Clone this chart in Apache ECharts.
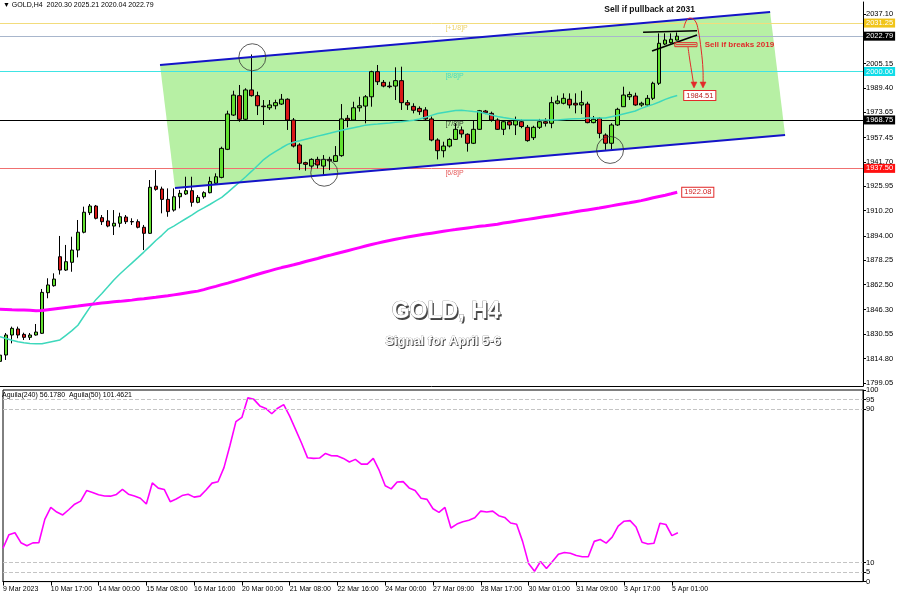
<!DOCTYPE html>
<html><head><meta charset="utf-8">
<script src="https://cdn.jsdelivr.net/npm/echarts@6/dist/echarts.min.js"></script>
<style>html,body{margin:0;padding:0;background:#fff}#c{width:900px;height:600px}</style>
</head><body><div id="c"></div>
<script>
// ---------- DATA ----------
// H4 candles: [open, high, low, close]
const candles = [
[1813.0,1818.0,1810.5,1817.0],[1817.1,1831.3,1813.9,1830.0],[1830.0,1835.4,1824.6,1834.3],[1833.9,1835.4,1827.9,1830.0],
[1830.4,1831.5,1826.8,1828.5],[1828.5,1831.3,1826.8,1830.0],[1830.0,1837.1,1829.6,1831.9],[1831.1,1859.7,1830.7,1857.5],
[1857.3,1866.6,1853.7,1862.3],[1861.8,1869.8,1861.2,1866.1],[1880.5,1893.9,1869.0,1871.9],[1871.9,1888.1,1871.3,1877.3],
[1876.9,1893.4,1870.8,1884.8],[1884.8,1904.2,1880.1,1896.3],[1896.3,1912.8,1895.6,1909.2],[1908.9,1914.5,1907.4,1913.2],
[1913.2,1913.9,1904.6,1905.3],[1905.7,1907.4,1901.0,1903.1],[1903.6,1910.6,1899.5,1900.3],[1900.3,1910.6,1894.5,1902.1],
[1902.1,1908.9,1899.5,1906.3],[1906.1,1907.4,1901.6,1903.1],[1903.2,1905.3,1901.0,1903.0],[1903.1,1904.6,1898.8,1899.5],
[1899.5,1901.0,1884.8,1895.6],[1895.6,1930.0,1895.2,1925.3],[1926.0,1936.4,1923.1,1924.0],[1924.2,1925.7,1908.5,1917.5],
[1917.5,1924.6,1906.3,1909.6],[1910.6,1924.6,1909.6,1919.2],[1919.2,1923.6,1911.7,1921.4],[1921.0,1932.1,1920.3,1923.1],
[1923.1,1932.1,1912.8,1915.6],[1915.6,1920.3,1915.0,1918.8],[1919.2,1922.7,1918.0,1921.8],[1921.8,1932.1,1921.4,1929.0],
[1927.9,1934.3,1926.8,1932.1],[1931.7,1951.5,1931.1,1950.4],[1949.8,1974.7,1949.3,1972.6],[1971.9,1987.6,1971.3,1984.8],
[1984.4,1991.3,1967.6,1969.2],[1969.2,1989.2,1968.7,1988.1],[1988.1,2011.0,1983.8,1984.4],[1984.4,1987.0,1971.9,1977.9],
[1977.7,1981.6,1965.5,1977.3],[1976.6,1981.6,1975.2,1978.4],[1977.9,1981.8,1975.6,1979.9],[1979.0,1985.5,1978.4,1982.1],
[1982.1,1982.7,1962.3,1968.7],[1968.7,1970.0,1951.0,1951.9],[1952.6,1953.7,1936.4,1940.8],[1941.2,1941.8,1936.0,1940.1],
[1939.0,1944.0,1937.5,1943.3],[1943.3,1945.0,1937.5,1939.7],[1939.0,1946.1,1933.2,1943.3],[1943.3,1945.0,1936.4,1942.4],
[1942.0,1951.9,1941.8,1945.7],[1945.7,1979.0,1945.0,1969.4],[1969.8,1971.9,1964.0,1968.7],[1968.7,1980.5,1968.3,1976.6],
[1976.6,1983.7,1974.1,1977.9],[1977.7,1984.8,1966.6,1983.7],[1983.7,2000.5,1977.3,1999.9],[1999.9,2004.2,1991.3,1993.4],
[1993.0,1994.5,1989.8,1990.6],[1990.6,1993.4,1989.2,1990.2],[1990.6,2002.7,1981.6,1994.1],[1994.1,2003.1,1975.2,1979.9],
[1979.9,1981.6,1975.2,1978.4],[1977.5,1979.5,1973.0,1975.0],[1976.2,1977.5,1972.0,1974.1],[1975.2,1977.0,1968.7,1969.4],
[1969.4,1970.9,1955.0,1955.8],[1955.8,1956.9,1943.3,1948.9],[1948.9,1954.7,1944.6,1951.9],[1951.9,1956.9,1951.0,1956.2],
[1956.2,1966.6,1955.8,1962.7],[1962.3,1964.5,1957.3,1959.7],[1959.5,1960.1,1948.3,1953.7],[1953.7,1968.7,1953.2,1962.7],
[1962.7,1975.2,1962.3,1974.7],[1974.5,1975.2,1972.5,1973.4],[1973.0,1974.1,1967.6,1968.7],[1968.7,1969.8,1962.3,1962.7],
[1962.7,1968.7,1959.0,1967.6],[1967.6,1968.7,1962.7,1965.5],[1965.5,1970.9,1959.0,1968.3],[1967.6,1969.0,1963.4,1964.5],
[1964.0,1965.5,1954.7,1955.4],[1957.3,1965.0,1955.8,1964.0],[1964.0,1969.4,1962.9,1967.6],[1967.6,1969.8,1964.5,1966.6],
[1966.6,1983.7,1963.4,1979.9],[1979.5,1984.5,1978.8,1981.0],[1979.5,1985.9,1978.8,1982.7],[1982.1,1985.9,1976.2,1978.4],
[1979.5,1985.9,1973.0,1978.4],[1978.4,1987.6,1972.6,1979.9],[1979.0,1980.5,1966.6,1967.0],[1967.0,1971.3,1966.6,1969.2],
[1969.8,1970.5,1956.9,1960.1],[1959.0,1960.1,1949.4,1953.7],[1953.7,1966.6,1949.8,1965.5],[1965.5,1976.6,1964.9,1975.6],
[1977.3,1990.2,1977.3,1984.8],[1983.7,1987.0,1981.6,1985.2],[1984.2,1986.3,1977.9,1978.4],[1978.4,1980.5,1977.3,1979.5],
[1978.4,1984.8,1977.5,1982.7],[1982.7,1993.4,1981.6,1992.4],[1992.4,2024.6,1991.3,2018.2],[2017.7,2024.6,2017.1,2020.3],
[2018.6,2024.6,2018.0,2020.8],[2020.30,2025.21,2020.04,2022.79]
];
// Turquoise moving average
const maFast = [
1828.9,1827.8,1826.6,1825.6,1825.0,1824.5,1824.3,1824.4,1825.2,1826.0,
1826.8,1829.8,1832.8,1836.3,1842.1,1847.8,1852.8,1856.8,1861.1,1865.5,
1869.4,1872.9,1876.4,1879.9,1883.5,1887.2,1891.0,1894.3,1898.1,1900.3,
1902.6,1905.0,1907.3,1909.9,1912.0,1914.2,1916.5,1918.8,1922.0,1925.4,
1928.7,1932.1,1935.7,1939.4,1943.2,1946.0,1948.4,1950.8,1953.0,1954.4,
1955.3,1956.3,1957.3,1958.3,1959.2,1960.1,1961.1,1962.1,1962.9,1963.7,
1964.5,1965.4,1965.8,1966.1,1966.5,1966.8,1967.2,1967.6,1968.1,1968.5,
1969.4,1970.5,1971.7,1972.9,1973.6,1974.2,1974.8,1975.0,1974.6,1974.2,
1973.9,1972.9,1971.9,1971.0,1970.3,1969.7,1969.1,1968.7,1968.7,1968.7,
1968.7,1968.7,1968.7,1968.7,1969.0,1969.3,1969.5,1969.7,1970.0,1970.0,
1970.0,1970.0,1970.8,1971.6,1972.6,1973.6,1974.5,1976.2,1977.6,1978.8,
1980.3,1982.0,1983.4,1984.51];
// Magenta 200 moving average
const maSlow = [
1846.6,1846.5,1846.3,1846.2,1846.1,1845.9,1845.7,1845.8,1846.3,1846.8,
1847.3,1847.8,1848.3,1848.7,1849.2,1849.7,1850.1,1850.6,1851.0,1851.4,
1851.7,1852.1,1852.5,1853.0,1853.4,1853.9,1854.3,1854.8,1855.3,1855.9,
1856.5,1857.1,1857.7,1858.3,1859.3,1860.4,1861.4,1862.5,1863.5,1864.6,
1865.7,1866.9,1868.1,1869.2,1870.3,1871.4,1872.5,1873.5,1874.4,1875.3,
1876.3,1877.4,1878.4,1879.4,1880.5,1881.4,1882.4,1883.4,1884.4,1885.4,
1886.4,1887.4,1888.4,1889.3,1890.2,1891.0,1891.8,1892.5,1893.2,1893.9,
1894.5,1895.1,1895.7,1896.3,1896.9,1897.5,1898.0,1898.6,1899.1,1899.6,
1900.1,1900.5,1901.0,1901.5,1902.2,1902.8,1903.4,1904.0,1904.6,1905.2,
1905.8,1906.4,1907.0,1907.6,1908.2,1908.8,1909.5,1910.1,1910.7,1911.3,
1911.9,1912.6,1913.3,1914.0,1914.7,1915.3,1916.0,1916.7,1917.6,1918.5,
1919.4,1920.2,1921.1,1922.08];
// Aguila oscillator
const aguila = [
17.4,24.5,25.5,20.3,18.7,20.2,20.3,32.5,38.7,36.3,
34.8,37.5,40.4,42.0,47.5,46.5,45.3,44.7,44.6,45.5,
48.1,45.6,44.7,43.5,40.5,51.5,48.8,48.1,41.7,43.1,
44.9,45.6,44.1,44.6,47.8,51.4,52.1,59.5,71.0,83.5,
85.7,95.9,95.1,91.7,90.4,87.6,90.5,92.4,86.4,79.3,
72.2,64.6,64.3,64.5,66.9,65.7,65.6,64.3,62.4,63.8,
61.3,61.3,64.3,58.0,50.0,48.4,52.0,52.2,48.9,47.5,
43.5,42.9,38.0,36.1,38.7,28.0,30.0,31.2,32.0,33.3,
36.8,36.3,36.8,34.4,33.5,30.6,29.9,21.0,9.5,5.4,
10.5,6.8,10.5,14.3,15.2,14.8,13.6,13.0,13.0,21.0,
22.0,20.1,23.2,29.0,31.5,31.8,28.5,20.5,19.6,20.0,
30.5,29.8,24.0,25.5];

const slotCount = 145; // candles + right shift
const xTickIndex = [0,8,16,24,32,40,48,56,64,72,80,88,96,104,112];
const xTickText = ['9 Mar 2023','10 Mar 17:00','14 Mar 00:00','15 Mar 08:00','16 Mar 16:00','20 Mar 00:00','21 Mar 08:00','22 Mar 16:00','24 Mar 00:00','27 Mar 09:00','28 Mar 17:00','30 Mar 01:00','31 Mar 09:00','3 Apr 17:00','5 Apr 01:00'];
const priceTicks = [2037.10,2005.15,1989.40,1973.65,1957.45,1941.70,1925.95,1910.20,1894.00,1878.25,1862.50,1846.30,1830.55,1814.80,1799.05];
const aguilaTicks = [0,5,10,90,95,100];
const aguilaLevels = [95,90,10,5];

const levelValues = [2031.25,2022.79,2000.00,1968.75,1937.50];
const levelTags = ['[+1/8]P','','[8/8]P','[7/8]P','[6/8]P'];
const levelTagX = 74.4;

const channelUpper = [[26.7,2004.2],[128.5,2038.4]];
const channelLower = [[29.2,1924.8],[131.0,1959.0]];
const channelFill = [[26.7,2004.2],[128.5,2038.4],[131.0,1959.0],[29.2,1924.8]];
const touchCircles = [[42.1,2009.2],[54.1,1934.7],[101.8,1949.4]];

const wedgeTop = [[107.3,2025.3],[116.3,2026.3]];
const wedgeBottom = [[108.8,2013.2],[116.3,2023.6]];
const breakBox = [[112.6,2018.6],[116.3,2016.0]];
const arrowA = [[114.8,2015.8],[115.1,2007.4],[115.5,1997.7],[115.8,1990.0]];
const arrowB = [[114.1,2028.1],[114.5,2032.6],[115.1,2034.5],[116.0,2032.6],[116.5,2026.8],[117.0,2013.9],[117.3,2001.0],[117.3,1990.0]];
const pullbackText = {at:[108.4,2039.7], text:'Sell if pullback at 2031'};
const breakText = {at:[117.6,2017.4], text:'Sell if breaks 2019'};
const fastLabel = '1984.51';
const slowLabel = '1922.08';

// ---------- STYLE ----------
const FONT = 'Liberation Sans, Arial, sans-serif';
const levelLineColors = ['#f2dc7c','#a8b6cc','#40e4e4','#000000','#f07070'];
const levelBoxColors = ['#f0c418','#000000','#10dce8','#000000','#ff1010'];
const levelTagColors = ['#e8c848','#000','#30d4c0','#111','#e03030'];
const RED = '#e22a2a';

const cats = Array.from({length: slotCount}, (_, i) => String(i));
const tickMap = {};
xTickIndex.forEach((k, j) => { tickMap[k] = xTickText[j]; });

const chart = echarts.init(document.getElementById('c'), null, {renderer: 'canvas'});

const option = {
  animation: false,
  backgroundColor: '#fff',
  textStyle: {fontFamily: FONT},
  grid: [
    {left: 0, right: 37, top: 2, height: 384},
    {left: 0, right: 37, top: 390, height: 191.6, show: true, borderColor: '#000', borderWidth: 1}
  ],
  xAxis: [
    {gridIndex: 0, type: 'category', data: cats, boundaryGap: false,
     axisLine: {show: true, onZero: false, lineStyle: {color: '#000', width: 1}}, axisTick: {show: false},
     axisLabel: {show: false}, splitLine: {show: false}},
    {gridIndex: 1, type: 'category', data: cats, boundaryGap: false,
     axisLine: {show: true, onZero: false, lineStyle: {color: '#000', width: 1}},
     axisTick: {show: true, interval: (i) => tickMap[i] !== undefined, length: 4, lineStyle: {color: '#000'}},
     axisLabel: {show: true, interval: (i) => tickMap[i] !== undefined, formatter: (v, i) => tickMap[i] || '',
       align: 'left', fontSize: 7, color: '#000', margin: 4, fontFamily: FONT},
     splitLine: {show: false}},
    {gridIndex: 0, type: 'value', min: 0, max: slotCount - 1, show: false,
     axisLine: {show: false, onZero: false}, axisTick: {show: false}, axisLabel: {show: false}, splitLine: {show: false}}
  ],
  yAxis: [
    {gridIndex: 0, type: 'value', position: 'right', min: 1797.1, max: 2044.84,
     splitLine: {show: false},
     axisLine: {show: true, onZero: false, lineStyle: {color: '#000'}},
     axisTick: {show: true, customValues: priceTicks, length: 3, lineStyle: {color: '#000'}},
     axisLabel: {show: true, customValues: priceTicks, formatter: (v) => v.toFixed(2), fontSize: 7.5, color: '#000', margin: 3, fontFamily: FONT}},
    {gridIndex: 1, type: 'value', position: 'right', min: 0, max: 100,
     splitLine: {show: false},
     axisLine: {show: true, onZero: false, lineStyle: {color: '#000'}},
     axisTick: {show: true, customValues: aguilaTicks, length: 3, lineStyle: {color: '#000'}},
     axisLabel: {show: true, customValues: aguilaTicks, fontSize: 7.5, color: '#000', margin: 3, fontFamily: FONT}}
  ],
  graphic: [
    {type: 'text', x: 3, y: 2, style: {text: '▼ GOLD,H4  2020.30 2025.21 2020.04 2022.79', font: '7px ' + FONT, fill: '#000'}},
    {type: 'text', x: 2, y: 392, style: {text: 'Aguila(240) 56.1780  Aguila(50) 101.4621', font: '7px ' + FONT, fill: '#000'}},
    {type: 'text', x: 447.5, y: 313.5, z: 99, style: {text: 'GOLD, H4', font: 'bold 23px ' + FONT, fill: '#444',
      align: 'center', verticalAlign: 'middle', shadowBlur: 3, shadowColor: 'rgba(0,0,0,0.5)'}},
    {type: 'text', x: 446, y: 312, z: 100, style: {text: 'GOLD, H4', font: 'bold 23px ' + FONT, fill: '#fff', stroke: '#777', lineWidth: 0.7,
      align: 'center', verticalAlign: 'middle'}},
    {type: 'text', x: 444, y: 342, z: 99, style: {text: 'Signal for April 5-6', font: 'bold 13px ' + FONT, fill: '#444',
      align: 'center', verticalAlign: 'middle', shadowBlur: 2, shadowColor: 'rgba(0,0,0,0.5)'}},
    {type: 'text', x: 443, y: 341, z: 100, style: {text: 'Signal for April 5-6', font: 'bold 13px ' + FONT, fill: '#fff', stroke: '#777', lineWidth: 0.5,
      align: 'center', verticalAlign: 'middle'}}
  ],
  series: [
    {
      name: 'channelFill', type: 'custom', xAxisIndex: 2, yAxisIndex: 0, z: 1, silent: true,
      data: [[0, 1900]],
      renderItem: (params, api) => ({
        type: 'polygon',
        shape: {points: channelFill.map(p => api.coord(p))},
        style: {fill: '#b7f0a4', stroke: null}
      })
    },
    {
      name: 'candles', type: 'candlestick', xAxisIndex: 0, yAxisIndex: 0, z: 3,
      barWidth: 4,
      data: candles.map(c => [c[0], c[3], c[2], c[1]]),
      itemStyle: {color: '#62e030', color0: '#d81818', borderColor: '#000', borderColor0: '#000', borderWidth: 1},
      markLine: {
        silent: true, symbol: ['none', 'none'], z: 2,
        data: levelValues.map((v, i) => ({
          yAxis: v,
          lineStyle: {color: levelLineColors[i], width: 1, type: 'solid'},
          label: {show: true, position: 'end', distance: 1, formatter: () => v.toFixed(2),
            backgroundColor: levelBoxColors[i], color: '#fff', padding: [1, 2, 0, 2], fontSize: 7.5, fontFamily: FONT}
        }))
      }
    },
    {
      name: 'maFast', type: 'line', xAxisIndex: 0, yAxisIndex: 0, z: 4, data: maFast,
      showSymbol: false, symbol: 'none', lineStyle: {color: '#3ed8bc', width: 1.5},
      endLabel: {show: true, formatter: fastLabel, distance: 7, backgroundColor: '#fff', borderColor: RED, borderWidth: 1,
        padding: [1, 2, 0, 2], color: '#b82020', fontSize: 7.5, fontFamily: FONT}
    },
    {
      name: 'maSlow', type: 'line', xAxisIndex: 0, yAxisIndex: 0, z: 4, data: maSlow,
      showSymbol: false, symbol: 'none', lineStyle: {color: '#ff00ff', width: 3},
      endLabel: {show: true, formatter: slowLabel, distance: 5, backgroundColor: '#fff', borderColor: RED, borderWidth: 1,
        padding: [1, 2, 0, 2], color: '#d02020', fontSize: 7.5, fontFamily: FONT}
    },
    {
      name: 'channelUpper', type: 'line', xAxisIndex: 2, yAxisIndex: 0, z: 5, data: channelUpper,
      showSymbol: false, symbol: 'none', lineStyle: {color: '#1414c8', width: 2}
    },
    {
      name: 'channelLower', type: 'line', xAxisIndex: 2, yAxisIndex: 0, z: 5, data: channelLower,
      showSymbol: false, symbol: 'none', lineStyle: {color: '#1414c8', width: 2}
    },
    {
      name: 'circles', type: 'scatter', xAxisIndex: 2, yAxisIndex: 0, z: 6, data: touchCircles,
      symbol: 'circle', symbolSize: 27, silent: true,
      itemStyle: {color: 'rgba(0,0,0,0)', borderColor: '#333', borderWidth: 1}
    },
    {
      name: 'levelTags', type: 'scatter', xAxisIndex: 2, yAxisIndex: 0, z: 6, symbolSize: 1, silent: true,
      itemStyle: {color: 'rgba(0,0,0,0)'},
      data: levelValues.map((v, i) => ({value: [levelTagX, v], name: levelTags[i],
        label: {show: levelTags[i] !== '', formatter: levelTags[i], color: levelTagColors[i], position: [0, 1.5],
          align: 'left', verticalAlign: 'top', fontSize: 7, fontFamily: FONT}}))
    },
    {
      name: 'annotations', type: 'custom', xAxisIndex: 2, yAxisIndex: 0, z: 7, silent: true,
      data: [[0, 1900]],
      renderItem: (params, api) => {
        const c = (p) => api.coord(p);
        const head = (p) => { const q = c(p); return {type: 'polygon', shape: {points: [[q[0]-3, q[1]-5], [q[0]+3, q[1]-5], [q[0], q[1]+1]]}, style: {fill: RED, stroke: RED, lineWidth: 0.5}}; };
        const b0 = c(breakBox[0]), b1 = c(breakBox[1]);
        const pt = c(pullbackText.at), bt = c(breakText.at);
        return {type: 'group', children: [
          {type: 'polyline', shape: {points: wedgeTop.map(c)}, style: {stroke: '#000', lineWidth: 1.6, fill: null}},
          {type: 'polyline', shape: {points: wedgeBottom.map(c)}, style: {stroke: '#000', lineWidth: 1.6, fill: null}},
          {type: 'rect', shape: {x: b0[0], y: b0[1], width: b1[0]-b0[0], height: b1[1]-b0[1]}, style: {fill: null, stroke: RED, lineWidth: 1}},
          {type: 'line', shape: {x1: b0[0]+1, y1: (b0[1]+b1[1])/2, x2: b1[0]-1, y2: (b0[1]+b1[1])/2}, style: {stroke: RED, lineWidth: 1}},
          {type: 'polyline', shape: {points: arrowA.map(c), smooth: 0.4}, style: {stroke: RED, lineWidth: 1, fill: null}},
          {type: 'polyline', shape: {points: arrowB.map(c), smooth: 0.4}, style: {stroke: RED, lineWidth: 1, fill: null}},
          head(arrowA[arrowA.length-1]),
          head(arrowB[arrowB.length-1]),
          {type: 'text', x: pt[0], y: pt[1], style: {text: pullbackText.text, fill: '#111', font: 'bold 8.5px ' + FONT, align: 'center', verticalAlign: 'middle'}},
          {type: 'text', x: bt[0], y: bt[1], style: {text: breakText.text, fill: RED, font: 'bold 8px ' + FONT, align: 'left', verticalAlign: 'middle'}}
        ]};
      }
    },
    {
      name: 'aguila', type: 'line', xAxisIndex: 1, yAxisIndex: 1, z: 4, data: aguila,
      showSymbol: false, symbol: 'none', lineStyle: {color: '#ff00ff', width: 1.6},
      markLine: {
        silent: true, symbol: ['none', 'none'], label: {show: false},
        lineStyle: {color: '#c4c4c4', type: 'dashed', width: 1},
        data: aguilaLevels.map(v => ({yAxis: v}))
      }
    }
  ]
};
chart.setOption(option);
</script>
</body></html>
